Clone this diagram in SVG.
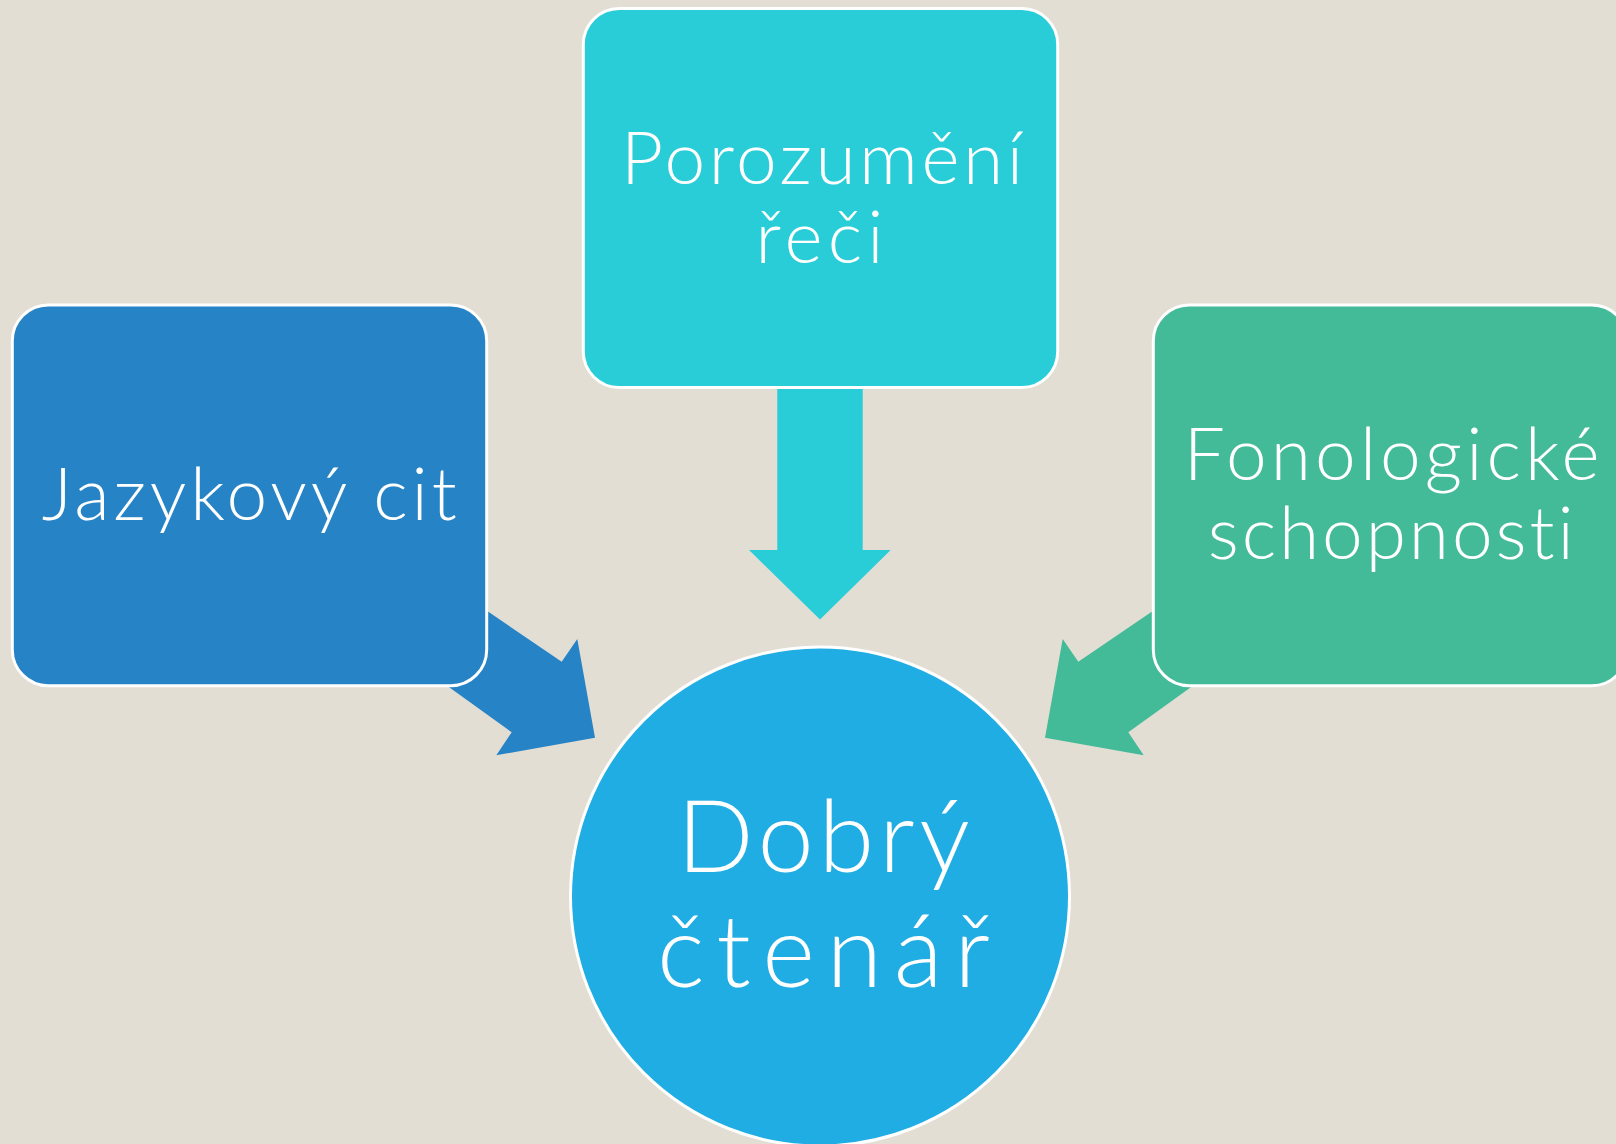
<svg xmlns="http://www.w3.org/2000/svg" width="1616" height="1144" viewBox="0 0 1616 1144">
  <style>
    .box { stroke: #FFFFFF; stroke-width: 3; }
    .lbl { fill: #FFFFFF; font-family: Lato, "Open Sans", "DejaVu Sans", sans-serif; font-weight: 300; text-anchor: middle; font-variant-ligatures: none; font-feature-settings: "liga" 0, "clig" 0; }
    .m { font-size: 73px; }
    .c { font-size: 101px; }
  </style>
  <rect x="0" y="0" width="1616" height="1144" fill="#E3DED3"/>
  <g id="connectors">
    <polygon fill="#2683C6" points="420,565.3 561.7,661.7 577.3,639 595,737.7 496.3,755.2 511.7,732.3 380,637.5"/>
    <polygon fill="#43BA98" points="1220,565.3 1078.3,661.7 1062.7,639 1045,737.7 1143.7,755.2 1128.3,732.3 1260,637.5"/>
    <polygon fill="#28CDD7" points="777.3,370 862.7,370 862.7,550 890.7,550 820,619.5 749,550 777.3,550"/>
  </g>
  <g id="node-jazykovy">
    <rect class="box" x="12.3" y="305" width="474.4" height="380.7" rx="36" ry="36" fill="#2683C6"/>
    <text class="lbl m" x="249.2" y="520" textLength="415" lengthAdjust="spacing">Jazykový cit</text>
  </g>
  <g id="node-porozumeni">
    <rect class="box" x="583.3" y="8.5" width="474.4" height="379" rx="36" ry="36" fill="#28CDD7"/>
    <text class="lbl m" x="822" y="183.5" textLength="402" lengthAdjust="spacing">Porozumění</text>
    <text class="lbl m" x="819.5" y="262.8" textLength="128" lengthAdjust="spacing">řeči</text>
  </g>
  <g id="node-fonologicke">
    <rect class="box" x="1153.3" y="305" width="474.4" height="380.7" rx="36" ry="36" fill="#43BA98"/>
    <text class="lbl m" x="1391.7" y="480" textLength="416" lengthAdjust="spacing">Fonologické</text>
    <text class="lbl m" x="1390.7" y="559" textLength="366" lengthAdjust="spacing">schopnosti</text>
  </g>
  <g id="node-dobry">
    <circle class="box" cx="820" cy="896.5" r="249.5" fill="#1FADE3"/>
    <text class="lbl c" x="823.4" y="871.7" textLength="293" lengthAdjust="spacing">Dobrý</text>
    <text class="lbl c" x="823.4" y="986.7" textLength="333" lengthAdjust="spacing">čtenář</text>
  </g>
</svg>
